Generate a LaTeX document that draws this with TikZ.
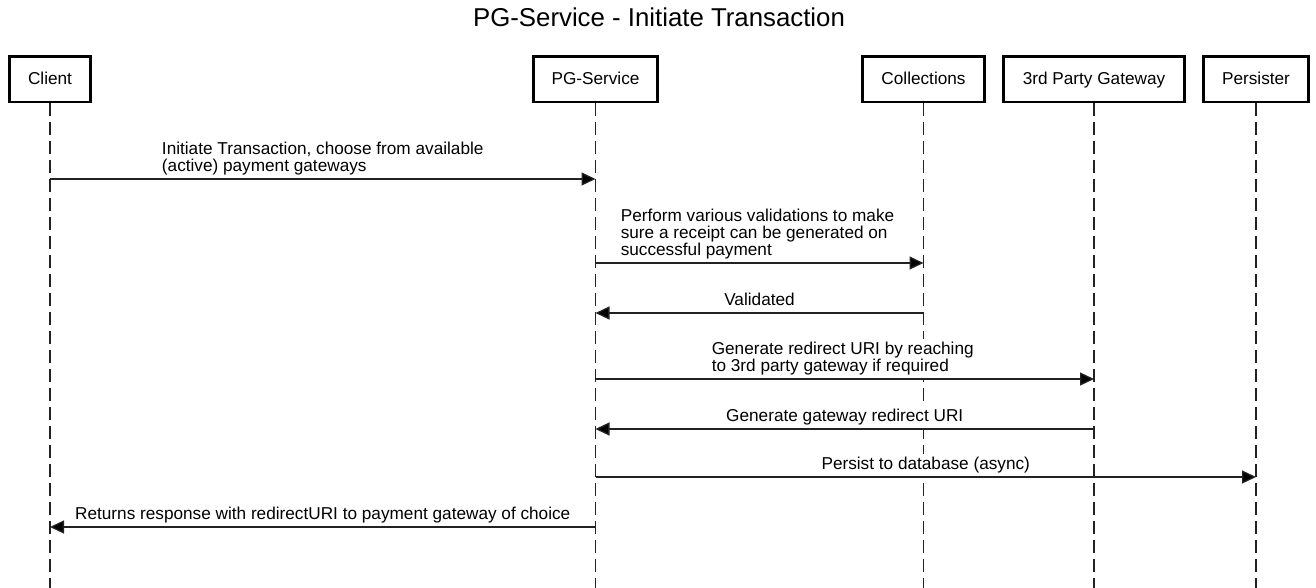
\documentclass[tikz,border=0pt]{standalone}
\usepackage{fontspec}
\setmainfont{Liberation Sans}
\usetikzlibrary{arrows.meta}
\definecolor{linegray}{HTML}{222222}
\tikzset{
  actor/.style={draw=black, line width=2.7pt, fill=white, minimum height=45.6pt,
    inner sep=0pt, text height=12.3pt, text depth=1.5pt,
    font=\fontsize{17.2}{17.3}\selectfont},
  lifeline/.style={draw=linegray, line width=1.3pt, dash pattern=on 13pt off 6pt},
  msg/.style={draw=linegray, line width=1.3pt, -{Triangle[length=14pt,width=13pt,fill=black]}},
  lbl/.style={font=\fontsize{17.2}{17.3}\selectfont, inner xsep=1pt, inner ysep=3pt,
    fill=white, align=left},
  multilbl/.style={lbl, anchor=south, yshift=0pt},
  onelbl/.style={lbl, anchor=base, yshift=8pt},
}
\begin{document}
\begin{tikzpicture}[x=1pt, y=-1pt]
\useasboundingbox (0,0) rectangle (1316,588);
\fill[white] (0,0) rectangle (1316,588);

\node[font=\fontsize{25.8}{30}\selectfont, anchor=base, inner sep=0pt] (title) at (659,26.5) {PG-Service - Initiate Transaction};

% actors
\node[actor, minimum width=80.7pt]  (client) at (50,79.2)    {Client};
\node[actor, minimum width=123.9pt] (pg)     at (595.5,79.2) {PG-Service};
\node[actor, minimum width=122.3pt] (coll)   at (923.5,79.2) {Collections};
\node[actor, minimum width=181.3pt] (gw)     at (1094,79.2)  {3rd Party Gateway};
\node[actor, minimum width=105.3pt] (pers)   at (1256,79.2)  {Persister};

% lifeline ends
\coordinate (clientE) at (50,588);
\coordinate (pgE)     at (595.5,588);
\coordinate (collE)   at (923.5,588);
\coordinate (gwE)     at (1094,588);
\coordinate (persE)   at (1256,588);

\draw[lifeline] (client.south) -- (clientE);
\draw[lifeline] (pg.south) -- (pgE);
\draw[lifeline] (coll.south) -- (collE);
\draw[lifeline] (gw.south) -- (gwE);
\draw[lifeline] (pers.south) -- (persE);

% message points
\coordinate (c1) at (50,179);    \coordinate (p1) at (595.5,179);
\coordinate (p2) at (595.5,263); \coordinate (k2) at (923.5,263);
\coordinate (k3) at (923.5,313); \coordinate (p3) at (595.5,313);
\coordinate (p4) at (595.5,379); \coordinate (g4) at (1094,379);
\coordinate (g5) at (1094,429);  \coordinate (p5) at (595.5,429);
\coordinate (p6) at (595.5,477); \coordinate (s6) at (1256,477);
\coordinate (p7) at (595.5,527); \coordinate (c7) at (50,527);

\draw[msg] (c1) -- node[multilbl] {Initiate Transaction, choose from available\\(active) payment gateways} (p1);
\draw[msg] (p2) -- node[multilbl, xshift=-2pt] {Perform various validations to make\\sure a receipt can be generated on\\successful payment} (k2);
\draw[msg] (k3) -- node[onelbl] {Validated} (p3);
\draw[msg] (p4) -- node[multilbl, xshift=-2pt] {Generate redirect URI by reaching\\to 3rd party gateway if required} (g4);
\draw[msg] (g5) -- node[onelbl] {Generate gateway redirect URI} (p5);
\draw[msg] (p6) -- node[onelbl] {Persist to database (async)} (s6);
\draw[msg] (p7) -- node[onelbl] {Returns response with redirectURI to payment gateway of choice} (c7);
\end{tikzpicture}
\end{document}
